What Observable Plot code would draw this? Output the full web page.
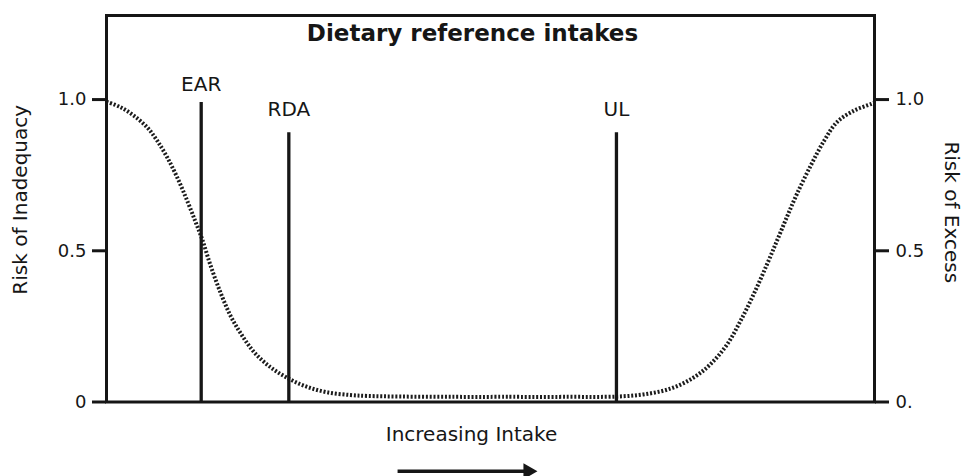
<!DOCTYPE html>
<html>
<head>
<meta charset="utf-8">
<script src="https://cdn.jsdelivr.net/npm/d3@7"></script>
<script src="https://cdn.jsdelivr.net/npm/@observablehq/plot@0.6"></script>
<style>
  html, body { margin: 0; padding: 0; background: #fff; }
  #chart svg { display: block; }
</style>
</head>
<body>
<div id="chart"></div>
<script>
// ---- data ----
// Risk of inadequacy curve (intake on a 0–100 relative scale)
const inadequacyIntake = [0, 1.8, 3.55, 5.3, 6.6, 7.9, 9.2, 10.5, 11.6, 12.46, 13.54, 14.84, 16.15, 17.45, 19.18, 21.35, 23.74, 26.13, 28.74, 31.77, 34.0, 38.3, 45, 52];
const inadequacyRisk   = [0.993, 0.975, 0.947, 0.908, 0.864, 0.809, 0.743, 0.666, 0.595, 0.538, 0.452, 0.362, 0.285, 0.228, 0.166, 0.115, 0.077, 0.050, 0.032, 0.023, 0.020, 0.018, 0.017, 0.017];
// Risk of excess curve
const excessIntake = [52, 60, 66.4, 69.9, 73.4, 76.4, 78.6, 80.8, 82.55, 84.3, 86.0, 87.3, 88.6, 89.9, 91.7, 93.4, 95.1, 97.3, 99.5, 100];
const excessRisk   = [0.017, 0.017, 0.018, 0.025, 0.044, 0.080, 0.124, 0.190, 0.268, 0.358, 0.455, 0.533, 0.612, 0.688, 0.782, 0.862, 0.925, 0.963, 0.985, 0.99];
// Reference values
const refNames  = ["EAR", "RDA", "UL"];
const refIntake = [12.33, 23.74, 66.4];
const refTop    = [0.99, 0.89, 0.89];
// Axis ticks
const yTicks = [0, 0.5, 1];
const leftTickLabels  = ["0", "0.5", "1.0"];
const rightTickLabels = ["0.", "0.5", "1.0"];
// Texts
const titleText = "Dietary reference intakes";
const xLabel = "Increasing Intake";
const yLeftLabel = "Risk of Inadequacy";
const yRightLabel = "Risk of Excess";
// Direction arrow along the intake axis
const arrowIntake = [37.9, 54.9];

// ---- build tables ----
const inadequacy = inadequacyIntake.map((x, i) => ({x, y: inadequacyRisk[i]}));
const excess = excessIntake.map((x, i) => ({x, y: excessRisk[i]}));
const refs = refNames.map((name, i) => ({name, x: refIntake[i], top: refTop[i]}));

const ink = "#161616";
const font = "DejaVu Sans";
const arrowY = -0.229;
const dotted = {curve: "catmull-rom", stroke: "#1c1c1c", strokeWidth: 4, strokeDasharray: "2,1.8", strokeLinecap: "butt"};

const chart = Plot.plot({
  width: 963,
  height: 476,
  marginLeft: 106,
  marginRight: 89,
  marginTop: 15,
  marginBottom: 74.5,
  style: {fontFamily: font, color: ink, background: "#fff"},
  x: {domain: [0, 100], axis: null},
  y: {domain: [0, 1.278], axis: null},
  marks: [
    // curves
    Plot.line(inadequacy, {x: "x", y: "y", ...dotted}),
    Plot.line(excess, {x: "x", y: "y", ...dotted}),
    // reference lines
    Plot.ruleX(refs, {x: "x", y1: 0, y2: "top", stroke: ink, strokeWidth: 3.3}),
    Plot.text(refs, {filter: d => d.name === "EAR", x: "x", y: "top", text: "name", dy: -18, lineAnchor: "middle", fontSize: 20, fill: ink}),
    Plot.text(refs, {filter: d => d.name !== "EAR", x: "x", y: "top", text: "name", dy: -23.5, lineAnchor: "middle", fontSize: 20, fill: ink}),
    // frame
    Plot.frame({stroke: ink, strokeWidth: 3}),
    // axes
    Plot.axisY({anchor: "left", ticks: yTicks, tickSize: 14, tickPadding: 6, strokeWidth: 3, fontSize: 18, label: null,
      tickFormat: d => leftTickLabels[yTicks.indexOf(d)], stroke: ink, fill: ink}),
    Plot.axisY({anchor: "right", ticks: yTicks, tickSize: 14, tickPadding: 7, strokeWidth: 3, fontSize: 18, label: null,
      tickFormat: d => rightTickLabels[yTicks.indexOf(d)], stroke: ink, fill: ink}),
    // titles
    Plot.text([titleText], {frameAnchor: "top", dx: -18, dy: 18.5, lineAnchor: "middle", fontSize: 23, fontWeight: "bold", fill: ink}),
    Plot.text([xLabel], {frameAnchor: "bottom", dx: -19, dy: 33, lineAnchor: "middle", fontSize: 20, fill: ink}),
    Plot.text([yLeftLabel], {frameAnchor: "left", dx: -86, dy: -9, rotate: -90, textAnchor: "middle", lineAnchor: "middle", fontSize: 20, fill: ink}),
    Plot.text([yRightLabel], {frameAnchor: "right", dx: 77, dy: 3.5, rotate: 90, textAnchor: "middle", lineAnchor: "middle", fontSize: 20, fill: ink}),
    // direction arrow
    Plot.link([arrowIntake], {x1: d => d[0], x2: d => d[1], y1: arrowY, y2: arrowY, stroke: ink, strokeWidth: 3.5}),
    Plot.dot([arrowIntake], {x: d => d[1], y: arrowY, symbol: "triangle", r: 6, rotate: 90, fill: ink, stroke: "none"})
  ]
});
document.getElementById("chart").appendChild(chart);
</script>
</body>
</html>
